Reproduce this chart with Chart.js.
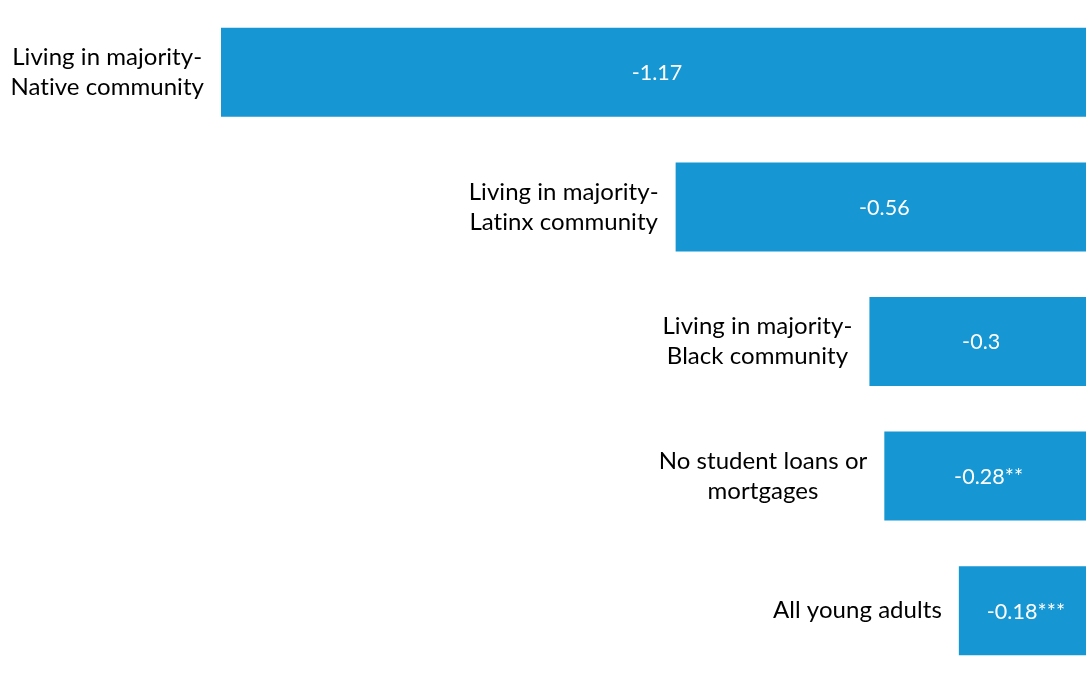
<!DOCTYPE html>
<html>
<head>
<meta charset="utf-8">
<script src="https://cdn.jsdelivr.net/npm/chart.js@4/dist/chart.umd.min.js"></script>
<style>
  html, body { margin: 0; padding: 0; background: #fff; overflow: hidden; }
  #wrap { position: relative; width: 1086px; height: 678px; }
</style>
</head>
<body>
<div id="wrap"><canvas id="c"></canvas></div>
<script>
const categories = [
  ["Living in majority-", "Native community"],
  ["Living in majority-", "Latinx community"],
  ["Living in majority-", "Black community"],
  ["No student loans or", "mortgages"],
  ["All young adults"]
];
const values = [-1.17, -0.56, -0.3, -0.28, -0.18];
const valueLabels = ["-1.17", "-0.56", "-0.3", "-0.28**", "-0.18***"];

const labelPlugin = {
  id: 'barLabels',
  afterDatasetsDraw(chart) {
    const ctx = chart.ctx;
    const meta = chart.getDatasetMeta(0);
    ctx.save();
    if ('letterSpacing' in ctx) ctx.letterSpacing = '0.05px';
    meta.data.forEach((bar, i) => {
      const left = Math.min(bar.x, bar.base);
      const right = Math.max(bar.x, bar.base);
      // value label
      ctx.fillStyle = '#ffffff';
      ctx.font = '21.5px Lato';
      ctx.textAlign = 'center';
      ctx.textBaseline = 'middle';
      ctx.fillText(valueLabels[i], (left + right) / 2, bar.y + 1);
      // category label
      ctx.fillStyle = '#000000';
      ctx.font = '24px Lato';
      const lines = categories[i];
      const w = Math.max(...lines.map(l => ctx.measureText(l).width));
      const cx = left - 17 - w / 2;
      const lh = 30;
      const y0 = bar.y - (lines.length - 1) * lh / 2;
      lines.forEach((l, k) => ctx.fillText(l, cx, y0 + k * lh));
    });
    ctx.restore();
  }
};

new Chart(document.getElementById('c'), {
  type: 'bar',
  data: {
    labels: categories.map(c => c.join(' ')),
    datasets: [{
      data: values,
      backgroundColor: '#1696d2',
      borderWidth: 0,
      barPercentage: 1,
      categoryPercentage: 0.661
    }]
  },
  options: {
    indexAxis: 'y',
    responsive: true,
    maintainAspectRatio: false,
    animation: false,
    layout: { padding: { left: 221, right: 0, top: 5, bottom: 0 } },
    plugins: { legend: { display: false }, tooltip: { enabled: false } },
    scales: {
      x: { display: false, min: -1.17, max: -0.0094 },
      y: { display: false }
    }
  },
  plugins: [labelPlugin]
});
</script>
</body>
</html>
